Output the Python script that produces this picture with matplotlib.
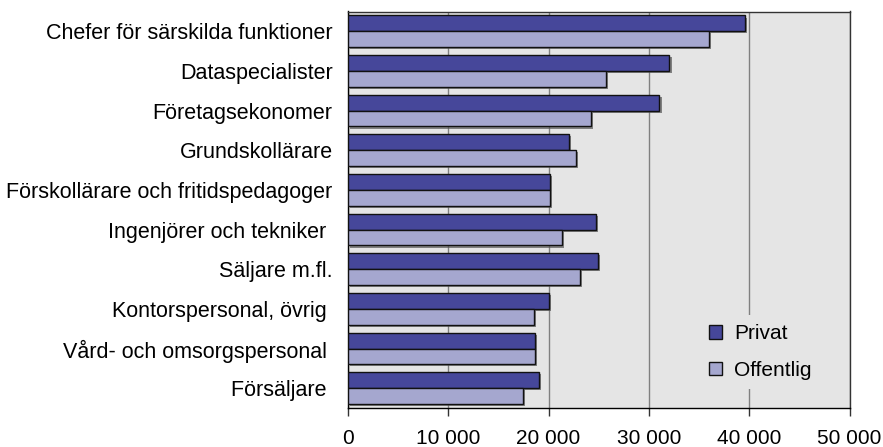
import matplotlib
matplotlib.use("Agg")
import matplotlib.pyplot as plt
import matplotlib.patheffects as pe
from matplotlib.ticker import FuncFormatter
import numpy as np

plt.rcParams['font.family'] = ['Liberation Sans', 'DejaVu Sans']

categories = [
    "Chefer för särskilda funktioner",
    "Dataspecialister",
    "Företagsekonomer",
    "Grundskollärare",
    "Förskollärare och fritidspedagoger",
    "Ingenjörer och tekniker ",
    "Säljare m.fl.",
    "Kontorspersonal, övrig ",
    "Vård- och omsorgspersonal ",
    "Försäljare ",
]
privat = [39600, 32050, 31050, 22000, 20150, 24700, 24950, 20050, 18650, 19050]
offentlig = [35950, 25700, 24250, 22750, 20150, 21350, 23150, 18550, 18650, 17400]
series_names = ["Privat", "Offentlig"]
xticks = [0, 10000, 20000, 30000, 40000, 50000]

c_priv = "#46479A"
c_off = "#A5A7CF"
FS = 15
FSY = 15.5

fig = plt.figure(figsize=(8.83, 4.47), dpi=100)
ax = fig.add_axes([348/883, 1 - 408/447, (849.5 - 348)/883, (408 - 11.5)/447])
ax.set_facecolor("#E5E5E5")

n = len(categories)
y = np.arange(n)[::-1]
h = 0.4
shadow = [pe.SimplePatchShadow(offset=(1.5, -1.5), shadow_rgbFace="#555555", alpha=0.7), pe.Normal()]
b1 = ax.barh(y + h/2, privat, height=h, color=c_priv, edgecolor="#111111", linewidth=1.0,
             label=series_names[0], zorder=3)
b2 = ax.barh(y - h/2, offentlig, height=h, color=c_off, edgecolor="#111111", linewidth=1.0,
             label=series_names[1], zorder=3)
for p in list(b1) + list(b2):
    p.set_path_effects(shadow)

ax.set_xlim(0, 50000)
ax.set_ylim(-0.5, n - 0.5)
ax.set_xticks(xticks)
ax.xaxis.set_major_formatter(FuncFormatter(lambda v, p: f"{int(v):,}".replace(",", " ")))
ax.grid(axis="x", color="#808080", linewidth=1.0, zorder=1)
ax.set_axisbelow(True)

ax.set_yticks(y)
ax.set_yticklabels(categories, fontsize=FSY)
ax.tick_params(axis="y", length=0, pad=11)
ax.tick_params(axis="x", direction="out", length=6, width=1, color="#333333", labelsize=FS, pad=9)

for s in ["left", "bottom"]:
    ax.spines[s].set_color("#000000")
    ax.spines[s].set_linewidth(1.0)
for s in ["top", "right"]:
    ax.spines[s].set_color("#333333")
    ax.spines[s].set_linewidth(1.0)

leg = ax.legend(loc="center left", bbox_to_anchor=(700/883, 1 - 352/447),
                bbox_transform=fig.transFigure, borderaxespad=0,
                frameon=True, facecolor="#E5E5E5", edgecolor="none", framealpha=1,
                fancybox=False, fontsize=FS, borderpad=0.45,
                handlelength=0.62, handleheight=0.62, labelspacing=0.85, handletextpad=0.55)
leg.set_zorder(5)
for hnd in leg.legend_handles:
    hnd.set_path_effects([])

fig.savefig("out.png", dpi=100)
